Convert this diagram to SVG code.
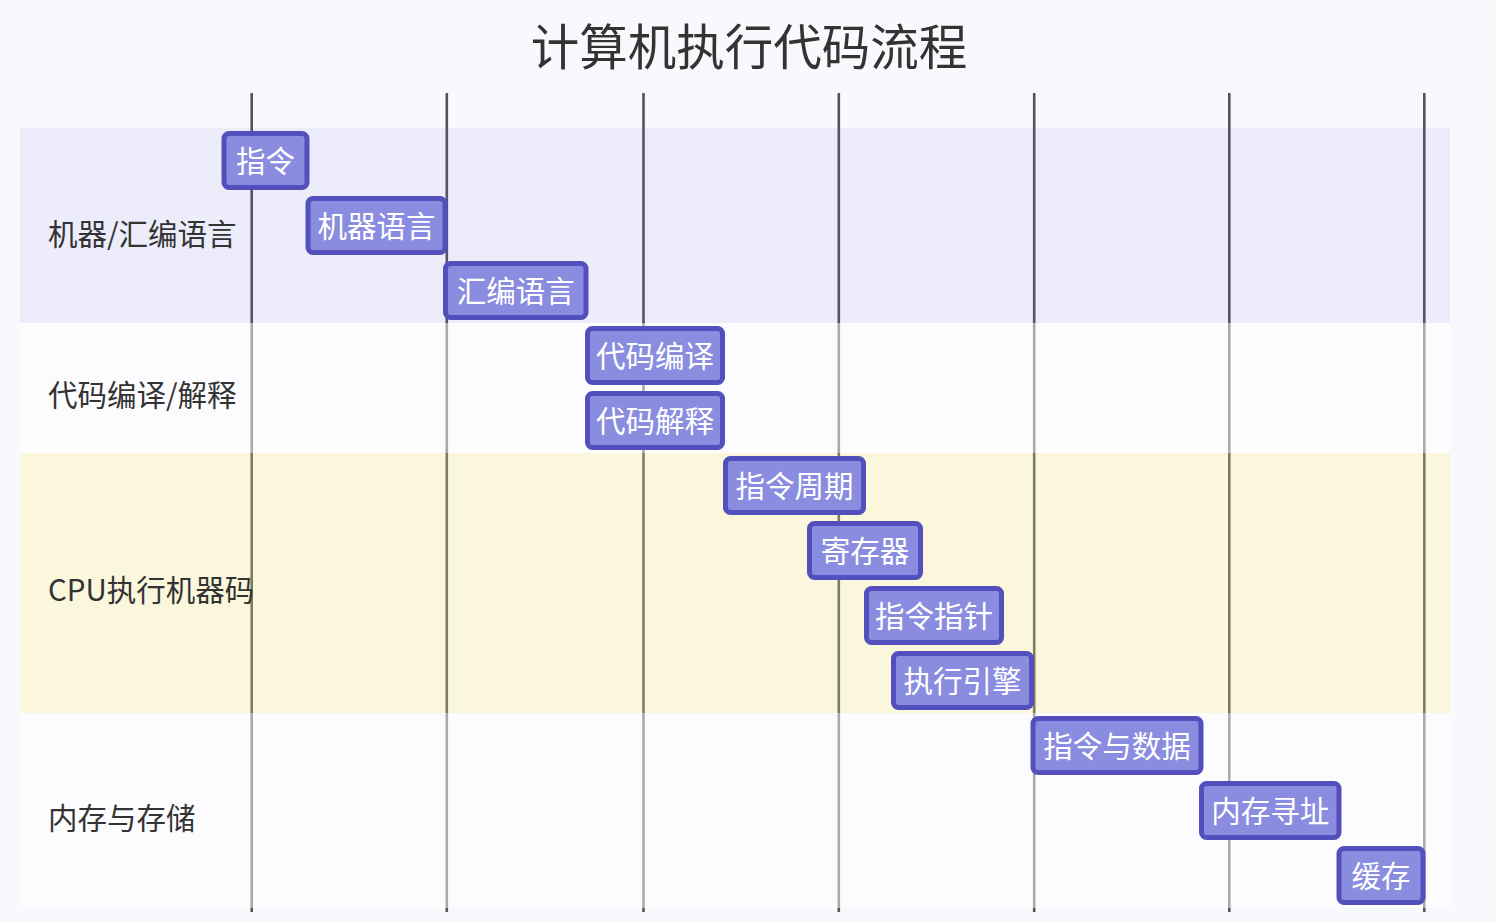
<svg xmlns="http://www.w3.org/2000/svg" width="1496" height="922" viewBox="0 0 1496 922">
<style>
.title{font-family:"Noto Sans CJK SC","Noto Sans",sans-serif;font-size:48.5px;fill:#333;text-anchor:middle}
.sec{font-family:"Noto Sans CJK SC","Noto Sans",sans-serif;font-size:29.5px;fill:#333;dominant-baseline:central}
.task rect{fill:#8a8ddf;stroke:#534fbd;stroke-width:5}
.task text{font-family:"Noto Sans CJK SC","Noto Sans",sans-serif;font-size:29.5px;fill:#fff;text-anchor:middle;dominant-baseline:central}
.grid line{stroke:#555;stroke-width:2.6}
</style>
<rect width="1496" height="922" fill="#f8f9fc"/>
<text class="title" x="749" y="65">计算机执行代码流程</text>
<g id="grid" class="grid">
<line x1="251.7" y1="93" x2="251.7" y2="912"/>
<line x1="446.8" y1="93" x2="446.8" y2="912"/>
<line x1="643.5" y1="93" x2="643.5" y2="912"/>
<line x1="838.8" y1="93" x2="838.8" y2="912"/>
<line x1="1034.2" y1="93" x2="1034.2" y2="912"/>
<line x1="1229.3" y1="93" x2="1229.3" y2="912"/>
<line x1="1424.3" y1="93" x2="1424.3" y2="912"/>
</g>
<g id="sections">
<rect x="20" y="128" width="1430" height="195" fill="#6e5ef0" fill-opacity="0.08"/>
<rect x="20" y="323" width="1430" height="130" fill="#ffffff" fill-opacity="0.5"/>
<rect x="20" y="453" width="1430" height="260" fill="#fff27a" fill-opacity="0.25"/>
<rect x="20" y="713" width="1430" height="195" fill="#ffffff" fill-opacity="0.5"/>
<text class="sec" x="48" y="232">机器/汇编语言</text>
<text class="sec" x="48" y="393">代码编译/解释</text>
<text class="sec" x="48" y="588">CPU执行机器码</text>
<text class="sec" x="48" y="816">内存与存储</text>
</g>
<g id="connectors"></g>
<g id="t1" class="task"><rect x="224" y="133.5" width="83" height="54" rx="5"/><text x="265.5" y="158.5">指令</text></g>
<g id="t2" class="task"><rect x="308" y="198.5" width="137" height="54" rx="5"/><text x="376.5" y="223.5">机器语言</text></g>
<g id="t3" class="task"><rect x="445.5" y="263.5" width="140.5" height="54" rx="5"/><text x="515.7" y="288.5">汇编语言</text></g>
<g id="t4" class="task"><rect x="587.5" y="328.5" width="135" height="54" rx="5"/><text x="655" y="353.5">代码编译</text></g>
<g id="t5" class="task"><rect x="587.5" y="393.5" width="135" height="54" rx="5"/><text x="655" y="418.5">代码解释</text></g>
<g id="t6" class="task"><rect x="725.5" y="458.5" width="138" height="54" rx="5"/><text x="794.5" y="483.5">指令周期</text></g>
<g id="t7" class="task"><rect x="809.5" y="523.5" width="111" height="54" rx="5"/><text x="865" y="548.5">寄存器</text></g>
<g id="t8" class="task"><rect x="866.5" y="588.5" width="135" height="54" rx="5"/><text x="934" y="613.5">指令指针</text></g>
<g id="t9" class="task"><rect x="893.5" y="653.5" width="138" height="54" rx="5"/><text x="962.5" y="678.5">执行引擎</text></g>
<g id="t10" class="task"><rect x="1033" y="718.5" width="168" height="54" rx="5"/><text x="1117" y="743.5">指令与数据</text></g>
<g id="t11" class="task"><rect x="1201.5" y="783.5" width="137.5" height="54" rx="5"/><text x="1270.2" y="808.5">内存寻址</text></g>
<g id="t12" class="task"><rect x="1339" y="848.5" width="84" height="54" rx="5"/><text x="1381" y="873.5">缓存</text></g>
</svg>
